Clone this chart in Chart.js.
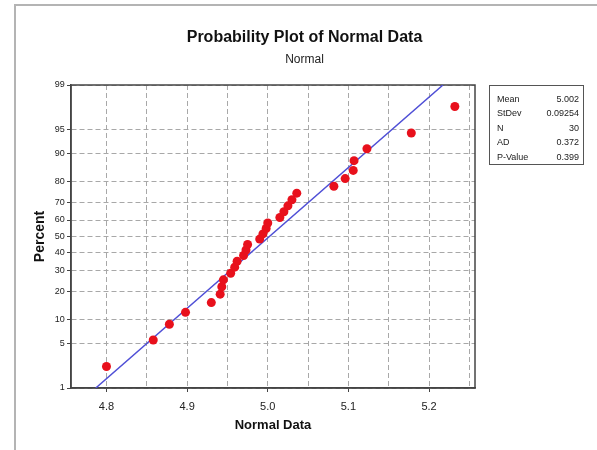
<!DOCTYPE html>
<html>
<head>
<meta charset="utf-8">
<script src="https://cdn.jsdelivr.net/npm/chart.js@4.4.0/dist/chart.umd.min.js"></script>
<style>
  html, body { margin: 0; padding: 0; background: #fff; }
  #wrap { position: relative; width: 597px; height: 450px; overflow: hidden; }
  #frame { position: absolute; left: 14px; top: 4px; width: 620px; height: 480px;
           border-left: 2px solid #b4b4b4; border-top: 2px solid #b4b4b4; }
  #plot { position: absolute; left: 0; top: 0; }
  #stats { position: absolute; left: 489px; top: 85px; width: 95px; height: 80px;
           box-sizing: border-box; border: 1px solid #555; padding: 5.5px 4px 0 7px;
           font: 9px "Liberation Sans", Arial, sans-serif; color: #222; }
  #stats .row { display: flex; justify-content: space-between; height: 14.5px; line-height: 14.5px; }
</style>
</head>
<body>
<div id="wrap">
  <div id="frame"></div>
  <canvas id="plot" width="597" height="450"></canvas>
  <div id="stats"></div>
</div>
<script>
// ── DATA ───────────────────────────────────────────────────────────────
const SAMPLE_X   = [4.800, 4.858, 4.878, 4.898, 4.930, 4.941, 4.943, 4.945, 4.954, 4.959,
                    4.962, 4.970, 4.973, 4.975, 4.990, 4.994, 4.998, 5.000, 5.015, 5.020,
                    5.025, 5.030, 5.036, 5.082, 5.096, 5.106, 5.107, 5.123, 5.178, 5.232];
const SAMPLE_PCT = [2.3, 5.6, 8.9, 12.2, 15.5, 18.8, 22.0, 25.3, 28.6, 31.9,
                    35.2, 38.5, 41.8, 45.1, 48.4, 51.6, 54.9, 58.2, 61.5, 64.8,
                    68.1, 71.4, 74.7, 78.0, 81.3, 84.5, 87.8, 91.1, 94.4, 97.7];
const Y_TICKS  = [1, 5, 10, 20, 30, 40, 50, 60, 70, 80, 90, 95, 99];
const X_TICKS  = [4.8, 4.85, 4.9, 4.95, 5.0, 5.05, 5.1, 5.15, 5.2, 5.25];
const X_LABELS = ['4.8', '', '4.9', '', '5.0', '', '5.1', '', '5.2', ''];
const FIT_MEAN = 5.002;
const FIT_SD   = 0.09254;
const STAT_LABELS = ['Mean', 'StDev', 'N', 'AD', 'P-Value'];
const STAT_VALUES = ['5.002', '0.09254', '30', '0.372', '0.399'];

// ── INVERSE NORMAL (probability scale) ─────────────────────────────────
function probit(p) {
  const a = [-3.969683028665376e+01, 2.209460984245205e+02, -2.759285104469687e+02,
             1.383577518672690e+02, -3.066479806614716e+01, 2.506628277459239e+00];
  const b = [-5.447609879822406e+01, 1.615858368580409e+02, -1.556989798598866e+02,
             6.680131188771972e+01, -1.328068155288572e+01];
  const c = [-7.784894002430293e-03, -3.223964580411365e-01, -2.400758277161838e+00,
             -2.549732539343734e+00, 4.374664141464968e+00, 2.938163982698783e+00];
  const d = [7.784695709041462e-03, 3.224671290700398e-01, 2.445134137142996e+00,
             3.754408661907416e+00];
  const lo = 0.02425;
  const tail = q => (((((c[0]*q + c[1])*q + c[2])*q + c[3])*q + c[4])*q + c[5]) /
                    ((((d[0]*q + d[1])*q + d[2])*q + d[3])*q + 1);
  if (p < lo) return tail(Math.sqrt(-2 * Math.log(p)));
  if (p > 1 - lo) return -tail(Math.sqrt(-2 * Math.log(1 - p)));
  const q = p - 0.5, r = q * q;
  return (((((a[0]*r + a[1])*r + a[2])*r + a[3])*r + a[4])*r + a[5]) * q /
         (((((b[0]*r + b[1])*r + b[2])*r + b[3])*r + b[4])*r + 1);
}

const Z_MIN = probit(Y_TICKS[0] / 100);
const Z_MAX = probit(Y_TICKS[Y_TICKS.length - 1] / 100);

// ── STATS BOX ──────────────────────────────────────────────────────────
document.getElementById('stats').innerHTML = STAT_LABELS.map((l, i) => `
  <div class="row"><span>${l}</span><span>${STAT_VALUES[i]}</span></div>
`).join('');

// ── PLOT FRAME (top/right edges of the plot box) ───────────────────────
const plotFrame = {
  id: 'plotFrame',
  beforeDatasetsDraw(chart) {
    const { ctx, chartArea: a } = chart;
    ctx.save();
    ctx.strokeStyle = '#444';
    ctx.lineWidth = 1.5;
    ctx.strokeRect(a.left, a.top, a.right - a.left, a.bottom - a.top);
    ctx.restore();
  }
};

const FONT = '"Liberation Sans", Arial, sans-serif';

new Chart(document.getElementById('plot'), {
  type: 'scatter',
  data: {
    datasets: [{
      label: 'Data',
      data: SAMPLE_X.map((x, i) => ({ x, y: probit(SAMPLE_PCT[i] / 100) })),
      backgroundColor: '#e8101c',
      borderWidth: 0,
      pointRadius: 4.5,
    }, {
      label: 'Fit',
      type: 'line',
      data: [
        { x: FIT_MEAN + FIT_SD * Z_MIN, y: Z_MIN },
        { x: FIT_MEAN + FIT_SD * Z_MAX, y: Z_MAX },
      ],
      borderColor: '#4f4fd6',
      borderWidth: 1.5,
      pointRadius: 0,
      fill: false,
    }]
  },
  options: {
    responsive: false,
    animation: false,
    layout: { padding: { left: 12, right: 0, top: 0, bottom: 0 } },
    plugins: {
      legend: { display: false },
      tooltip: { enabled: false },
      title: {
        display: true,
        text: 'Probability Plot of Normal Data',
        color: '#111',
        font: { family: FONT, size: 16, weight: 'bold' },
        padding: { top: 28.3, bottom: 3 }
      },
      subtitle: {
        display: true,
        text: 'Normal',
        color: '#222',
        font: { family: FONT, size: 12 },
        padding: { top: 1.5, bottom: 18.6 }
      }
    },
    scales: {
      x: {
        type: 'linear',
        min: 4.756,
        max: 5.257,
        afterBuildTicks: s => { s.ticks = X_TICKS.map(v => ({ value: v })); },
        afterFit: s => { s.height = 62; },
        ticks: {
          callback: (v, i) => X_LABELS[i],
          font: { family: FONT, size: 11 },
          color: '#222',
          padding: 8,
          maxRotation: 0,
          autoSkip: false
        },
        grid: {
          color: '#a8a8a8',
          tickLength: 4,
          tickColor: ctx => X_LABELS[ctx.index] ? '#444' : 'rgba(0,0,0,0)'
        },
        border: { color: '#444', width: 1.5, dash: [5, 3] },
        title: {
          display: true,
          text: 'Normal Data',
          color: '#111',
          font: { family: FONT, size: 13, weight: 'bold' },
          padding: { top: 0, bottom: 17.2 }
        }
      },
      y: {
        type: 'linear',
        min: Z_MIN,
        max: Z_MAX,
        afterBuildTicks: s => { s.ticks = Y_TICKS.map(p => ({ value: probit(p / 100) })); },
        afterFit: s => { s.width = 59; },
        ticks: {
          callback: (v, i) => Y_TICKS[i],
          font: { family: FONT, size: 9 },
          color: '#222',
          padding: 2.3,
          autoSkip: false
        },
        grid: { color: '#a8a8a8', tickLength: 4, tickColor: '#444' },
        border: { color: '#444', width: 1.5, dash: [5, 3] },
        title: {
          display: true,
          text: 'Percent',
          color: '#111',
          font: { family: FONT, size: 14, weight: 'bold' },
          padding: { top: 19.6, bottom: 0 }
        }
      },
      pad: {
        position: 'right',
        display: true,
        afterFit: s => { s.width = 122; },
        ticks: { display: false },
        grid: { display: false, drawTicks: false },
        border: { display: false }
      }
    }
  },
  plugins: [plotFrame]
});
</script>
</body>
</html>
